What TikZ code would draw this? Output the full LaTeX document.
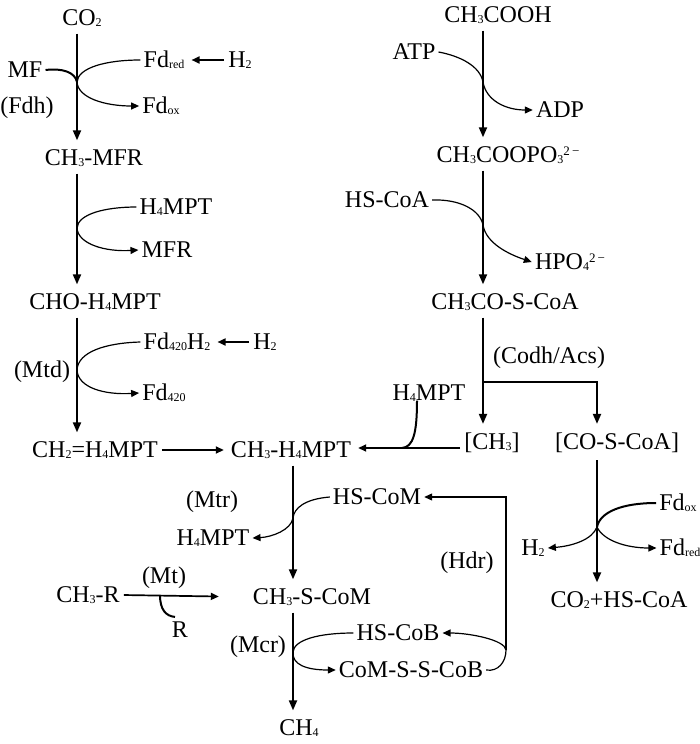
\documentclass[tikz,border=0pt]{standalone}
\usepackage{fontspec}
\setmainfont{Liberation Serif}
\usepackage{tikz}
\usetikzlibrary{arrows.meta}
\newcommand{\ssub}[1]{\raisebox{-1pt}{\fontsize{12}{12}\selectfont #1}}
\newcommand{\ssup}[1]{\raisebox{7pt}{\fontsize{13}{13}\selectfont #1}}
\begin{document}
\begin{tikzpicture}[x=1pt, y=-1pt,
        every node/.style={font=\fontsize{24}{26}\selectfont, inner sep=3pt},
        chem/.style={},
        arrow/.style={-{Triangle[length=10pt,width=8pt]}, line width=2pt, shorten <=4pt, shorten >=6pt},
        harrow/.style={-{Triangle[length=8pt,width=7pt]}, line width=1.7pt, shorten <=1pt, shorten >=4pt},
        side/.style={line width=1.2pt},
        sidearrow/.style={side, -{Triangle[length=8pt,width=7pt]}},
        joint/.style={line width=2pt}
    ]
    \useasboundingbox (0,0) rectangle (700,744);
    % axes of the vertical reactions
    \coordinate (ax1) at (77,0);
    \coordinate (ax2) at (483,0);
    \coordinate (ax3) at (597,0);
    \coordinate (ax4) at (293,0);
    % CO2 route
    \node[chem] (co2) at (82,18) {CO\ssub{2}};
    \node[chem] (mf) at (25,70) {MF};
    \node[chem] (fdred1) at (164,60) {Fd\ssub{red}};
    \node[chem] (h2a) at (240,60) {H\ssub{2}};
    \node (fdh) at (27,108) {(Fdh)};
    \node[chem] (fdox1) at (161,106) {Fd\ssub{ox}};
    \node[chem] (ch3mfr) at (94,158) {CH\ssub{3}-MFR};
    \node[chem] (h4mpt1) at (176,207) {H\ssub{4}MPT};
    \node[chem] (mfr) at (167,250) {MFR};
    \node[chem] (chomp) at (95,302) {CHO-H\ssub{4}MPT};
    \node[chem] (fd420h2) at (177,342) {Fd\ssub{420}H\ssub{2}};
    \node[chem] (h2b) at (265,342) {H\ssub{2}};
    \node (mtd) at (42,372) {(Mtd)};
    \node[chem] (fd420) at (164,393) {Fd\ssub{420}};
    \node[chem] (ch2mp) at (95,450) {CH\ssub{2}=H\ssub{4}MPT};
    \node[chem] (ch3mp) at (291,450) {CH\ssub{3}-H\ssub{4}MPT};
    % acetate route
    \node[chem] (ch3cooh) at (498,15) {CH\ssub{3}COOH};
    \node[chem] (atp) at (414,52) {ATP};
    \node[chem] (adp) at (560,110) {ADP};
    \node[chem] (ch3coopo) at (508,155) {CH\ssub{3}COOPO\ssub{3}\ssup{2\,−}};
    \node[chem] (hscoa) at (387,200) {HS-CoA};
    \node[chem] (hpo) at (570,262) {HPO\ssub{4}\ssup{2\,−}};
    \node[chem] (ch3cosc) at (505,302) {CH\ssub{3}CO-S-CoA};
    \node (codh) at (549,358) {(Codh/Acs)};
    \node[chem] (h4mpt2) at (429,393) {H\ssub{4}MPT};
    \node[chem] (ch3br) at (492,443) {[CH\ssub{3}]};
    \node[chem] (cosc) at (617,443) {[CO-S-CoA]};
    \node[chem] (fdox2) at (678,503) {Fd\ssub{ox}};
    \node[chem] (h2c) at (533,548) {H\ssub{2}};
    \node[chem] (fdred2) at (680,548) {Fd\ssub{red}};
    \node[chem] (co2coa) at (619,600) {CO\ssub{2}+HS-CoA};
    % common route
    \node[chem] (hscom) at (377,497) {HS-CoM};
    \node (mtr) at (212,502) {(Mtr)};
    \node[chem] (h4mpt3) at (213,538) {H\ssub{4}MPT};
    \node (hdr) at (467,563) {(Hdr)};
    \node[chem] (ch3r) at (88,595) {CH\ssub{3}-R};
    \node (mt) at (164,578) {(Mt)};
    \node[chem] (rr) at (180,630) {R};
    \node[chem] (ch3scom) at (312,597) {CH\ssub{3}-S-CoM};
    \node[chem] (hscob) at (398,633) {HS-CoB};
    \node (mcr) at (258,647) {(Mcr)};
    \node[chem] (comsscob) at (411,670) {CoM-S-S-CoB};
    \node[chem] (ch4) at (299,728) {CH\ssub{4}};
    % main reactions
    \foreach \a/\b in {co2/ch3mfr, ch3mfr/chomp, chomp/ch2mp} {
        \draw[arrow] (\a.south -| ax1) -- (\b.north -| ax1);
    }
    \foreach \a/\b in {ch3cooh/ch3coopo, ch3coopo/ch3cosc, ch3cosc/ch3br} {
        \draw[arrow] (\a.south -| ax2) -- (\b.north -| ax2);
    }
    \foreach \a/\b in {ch3mp/ch3scom, ch3scom/ch4} {
        \draw[arrow] (\a.south -| ax4) -- (\b.north -| ax4);
    }
    \draw[arrow] (cosc.south -| ax3) -- (co2coa.north -| ax3);
    \coordinate (fork) at (483,382);
    \draw[arrow, shorten <=0pt] (fork) -| (cosc.north -| ax3);
    \coordinate (j6) at (402,448);
    \draw[harrow] (ch2mp.east) -- (ch3mp.west);
    \draw[harrow] (ch3br.west |- j6) -- (ch3mp.east |- j6);
    \draw[harrow, shorten >=31pt] (ch3r.east) -- (ch3scom.west);
    \draw[harrow] (h2a.west) -- (fdred1.east);
    \draw[harrow] (h2b.west) -- (fd420h2.east);
    % cofactors
    \coordinate (j1) at (77,82);
    \draw[joint] (mf.east) .. controls (62,68) and (75,72) .. (j1);
    \draw[sidearrow] (fdred1.west) .. controls (105,60) and (78,68) .. (j1)
        .. controls (78,98) and (105,106) .. (fdox1.west);
    \coordinate (j2) at (77,228);
    \draw[sidearrow] (h4mpt1.west) .. controls (105,207) and (78,214) .. (j2)
        .. controls (78,244) and (105,252) .. (mfr.west);
    \coordinate (j3) at (77,370);
    \draw[sidearrow] (fd420h2.west) .. controls (105,343) and (78,352) .. (j3)
        .. controls (78,388) and (105,395) .. (fd420.west);
    \coordinate (j4) at (483,82);
    \draw[sidearrow] (atp.east) .. controls (460,56) and (480,66) .. (j4)
        .. controls (486,100) and (505,110) .. (adp.west);
    \coordinate (j5) at (483,225);
    \draw[sidearrow] (hscoa.east) .. controls (460,199) and (480,210) .. (j5)
        .. controls (486,243) and (508,254) .. (hpo.west);
    \draw[joint] ([xshift=-12pt,yshift=4pt]h4mpt2.south) .. controls (417,434) and (413,447) .. (j6);
    \coordinate (j7) at (597,527);
    \draw[joint] (fdox2.west) .. controls (622,503) and (600,512) .. (j7);
    \draw[sidearrow] (j7) .. controls (592,540) and (572,546) .. (h2c.east);
    \draw[sidearrow] (j7) .. controls (603,540) and (625,548) .. (fdred2.west);
    \coordinate (j8) at (293,518);
    \draw[sidearrow] (hscom.west) .. controls (305,499) and (294,508) .. (j8)
        .. controls (291,530) and (272,537) .. (h4mpt3.east);
    \coordinate (j9) at (160,595);
    \draw[joint] (j9) .. controls (160,610) and (166,616) .. ([xshift=-5pt,yshift=2pt]rr.north);
    \coordinate (j10) at (293,652);
    \draw[sidearrow] (hscob.west) .. controls (318,633) and (294,640) .. (j10)
        .. controls (292,664) and (305,670) .. (comsscob.west);
    \coordinate (j11) at (506,650);
    \draw[sidearrow] (comsscob.east) .. controls (498,672) and (506,662) .. (j11)
        .. controls (505,640) and (470,633) .. (hscob.east);
    \draw[sidearrow] (j11) |- (hscom.east);
\end{tikzpicture}
\end{document}
